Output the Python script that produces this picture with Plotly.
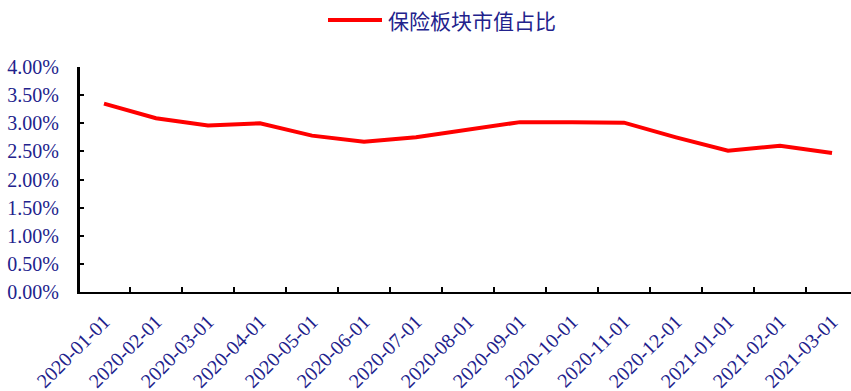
import plotly.graph_objects as go

# Monthly share of insurance-sector market cap in total A-share market cap
months = [
    "2020-01-01", "2020-02-01", "2020-03-01", "2020-04-01", "2020-05-01",
    "2020-06-01", "2020-07-01", "2020-08-01", "2020-09-01", "2020-10-01",
    "2020-11-01", "2020-12-01", "2021-01-01", "2021-02-01", "2021-03-01",
]
share_pct = [3.35, 3.09, 2.96, 3.00, 2.78, 2.67, 2.75, 2.88, 3.02, 3.02,
             3.01, 2.75, 2.51, 2.60, 2.47]
series_name = "保险板块市值占比"

y_ticks = [0.0, 0.5, 1.0, 1.5, 2.0, 2.5, 3.0, 3.5, 4.0]
y_ticktext = [f"{v:.2f}%" for v in y_ticks]

LINE_RED = "#ff0000"
TEXT_BLUE = "#22228c"
FONT = "Liberation Serif, Noto Sans CJK SC, serif"

W, H = 851, 391
M_L, M_R, M_T, M_B = 80, 0, 67, 99

fig = go.Figure()
fig.add_trace(go.Scatter(
    x=months, y=share_pct, mode="lines", name=series_name,
    line=dict(color=LINE_RED, width=4), showlegend=False,
))

# Legend drawn as a sample line plus the series name
plot_w = W - M_L - M_R
plot_h = H - M_T - M_B
legend_y = 1 + (M_T - 20) / plot_h
fig.add_shape(type="line", xref="paper", yref="paper",
              x0=(328 - M_L) / plot_w, x1=(382 - M_L) / plot_w,
              y0=legend_y, y1=legend_y,
              line=dict(color=LINE_RED, width=4))
fig.add_annotation(text=series_name, xref="paper", yref="paper",
                   x=(386 - M_L) / plot_w, y=legend_y,
                   xanchor="left", yanchor="middle", showarrow=False,
                   font=dict(family="Noto Sans CJK SC", size=21, color=TEXT_BLUE))

n = len(months)
fig.update_xaxes(
    type="category", range=[-0.4615, n - 1 + 0.365],
    showline=True, linecolor="black", linewidth=2,
    ticks="inside", ticklen=5, tickwidth=2, tickcolor="black",
    tickson="boundaries", tickangle=-45, automargin=False,
    tickfont=dict(family=FONT, size=20, color=TEXT_BLUE),
    showgrid=False, zeroline=False, ticklabelstandoff=8,
)
fig.update_yaxes(
    range=[0, 4], tickvals=y_ticks, ticktext=y_ticktext,
    showline=True, linecolor="black", linewidth=3, automargin=False,
    ticks="inside", ticklen=4, tickwidth=2, tickcolor="black",
    tickfont=dict(family=FONT, size=20, color=TEXT_BLUE),
    showgrid=False, zeroline=False, ticklabelstandoff=14,
)
fig.update_layout(
    width=W, height=H,
    margin=dict(l=M_L, r=M_R, t=M_T, b=M_B),
    plot_bgcolor="white", paper_bgcolor="white",
)
fig.write_html("out.html")
